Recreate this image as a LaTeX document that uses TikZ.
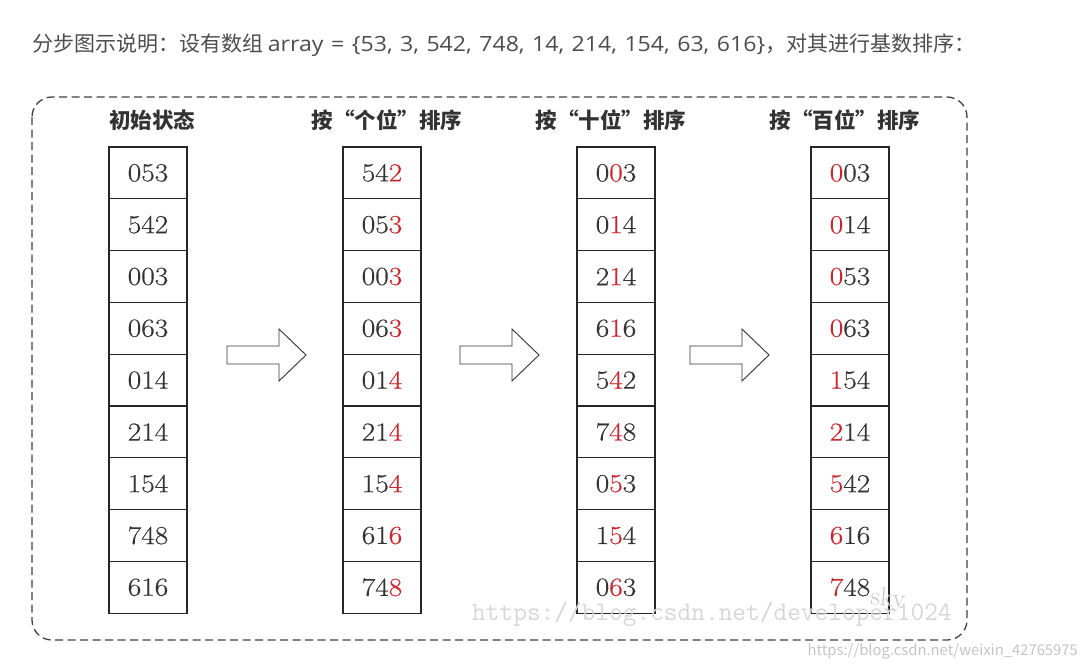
\documentclass[tikz,border=0pt]{standalone}
\usepackage{fontspec}
\newfontfamily\cjk{Noto Sans CJK SC}
\newfontfamily\latinsans{Open Sans}[FakeStretch=1.1]
\newfontfamily\cellfont{Latin Modern Roman}[FakeStretch=1.13,FakeBold=0.5]
\definecolor{txt}{HTML}{333333}
\definecolor{cap}{HTML}{4D4D4D}
\definecolor{hl}{HTML}{C8282D}
\definecolor{wm}{HTML}{D6D6D6}
\definecolor{wmb}{HTML}{C4C4C4}
\newcommand{\R}[1]{\textcolor{hl}{#1}}
\tikzset{
  cell/.style={draw=black!85, line width=1.1pt, minimum width=78pt, minimum height=51.8pt, inner sep=0pt, text=txt, font=\cellfont\fontsize{26}{26}\selectfont},
  head/.style={text=txt, font=\cjk\bfseries\fontsize{21.5}{21.5}\selectfont, inner sep=0pt},
  bigarrow/.style={draw=black!80, line width=0.9pt, fill=white},
  frame/.style={draw=black!75, line width=1.3pt, dash pattern=on 8pt off 4.5pt, rounded corners=20pt}
}
\begin{document}
\begin{tikzpicture}[x=1pt,y=-1pt]
\useasboundingbox (0,0) rectangle (1086,669);
\node[anchor=west, text=cap, font=\cjk\fontsize{21}{21}\selectfont, inner sep=0pt] (caption) at (32,45)
  {分步图示说明：设有数组 {\latinsans\spaceskip=7.5pt array = \{53, 3, 542, 748, 14, 214, 154, 63, 616\}}，对其进行基数排序：};
\draw[frame] (32,97) rectangle (967,640);
% headers
\node[head] (h1) at (152,120) {初始状态};
\node[head] (h2) at (387,120) {按“个位”排序};
\node[head] (h3) at (611,120) {按“十位”排序};
\node[head] (h4) at (845,120) {按“百位”排序};
% columns
\foreach \r/\v in {1/053,2/542,3/003,4/063,5/014,6/214,7/154,8/748,9/616}
  \node[cell] (a\r) at (148,{147+25.9+(\r-1)*51.8}) {\v};
\foreach \r/\v in {1/54\R{2},2/05\R{3},3/00\R{3},4/06\R{3},5/01\R{4},6/21\R{4},7/15\R{4},8/61\R{6},9/74\R{8}}
  \node[cell] (b\r) at (382,{147+25.9+(\r-1)*51.8}) {\v};
\foreach \r/\v in {1/0\R{0}3,2/0\R{1}4,3/2\R{1}4,4/6\R{1}6,5/5\R{4}2,6/7\R{4}8,7/0\R{5}3,8/1\R{5}4,9/0\R{6}3}
  \node[cell] (c\r) at (616,{147+25.9+(\r-1)*51.8}) {\v};
\foreach \r/\v in {1/\R{0}03,2/\R{0}14,3/\R{0}53,4/\R{0}63,5/\R{1}54,6/\R{2}14,7/\R{5}42,8/\R{6}16,9/\R{7}48}
  \node[cell] (d\r) at (850,{147+25.9+(\r-1)*51.8}) {\v};
% arrows
\foreach \x [count=\i] in {227,460,690}{
  \draw[bigarrow] (\x,346) -- (\x+52,346) -- (\x+52,329) -- (\x+79,355) -- (\x+52,381) -- (\x+52,364) -- (\x,364) -- cycle;
}
% watermarks
\node[anchor=west, text=wm, font=\fontsize{26.6}{26.6}\selectfont\ttfamily, inner sep=0pt] (wm1) at (472,614) {https://blog.csdn.net/developer1024};
\node[text=wmb, font=\fontsize{26}{26}\selectfont, inner sep=0pt, rotate=-5] (wm2) at (888,600) {sky};
\node[anchor=east, text=wmb, font=\cjk\fontsize{14.8}{14.8}\selectfont, inner sep=0pt] (wm3) at (1078,651) {https://blog.csdn.net/weixin\_42765975};
\end{tikzpicture}
\end{document}
